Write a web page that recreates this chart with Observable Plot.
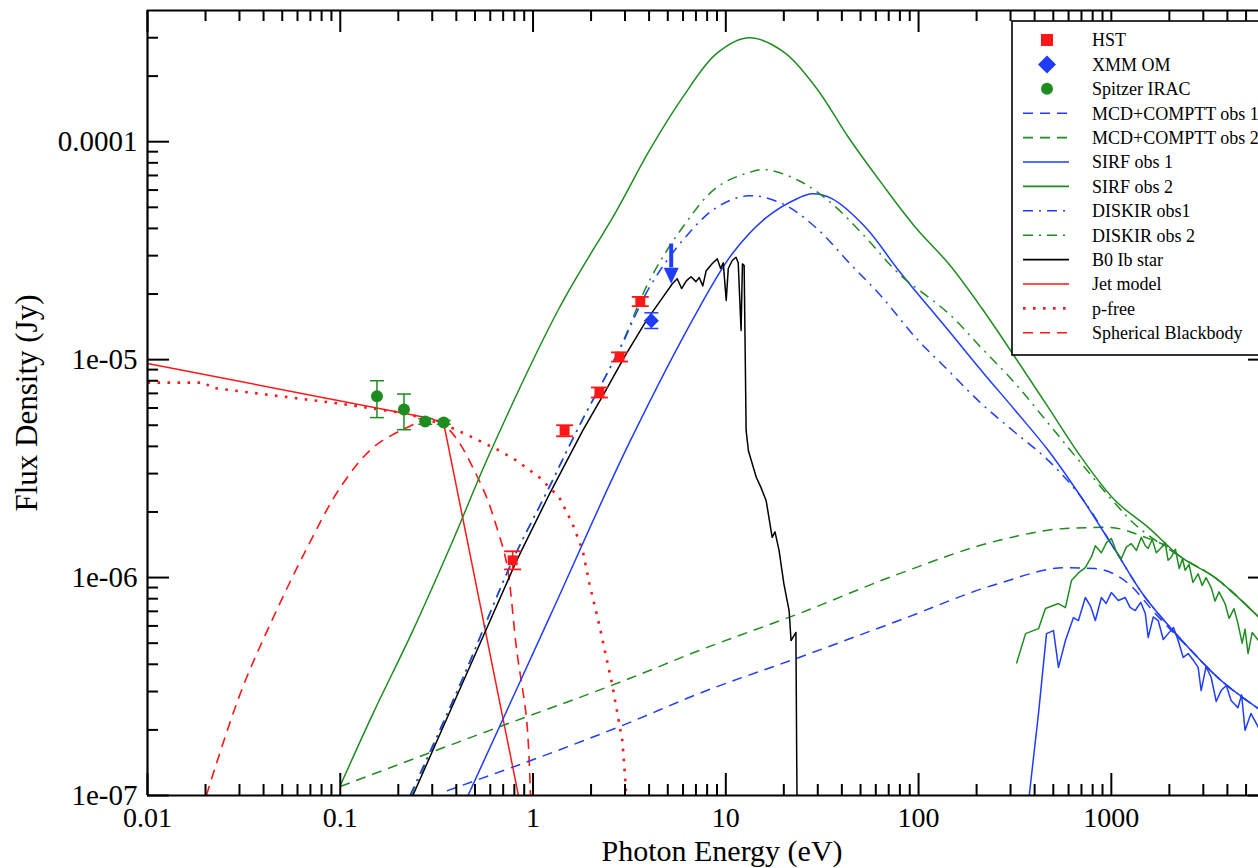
<!DOCTYPE html>
<html><head><meta charset="utf-8">
<script src="https://cdn.jsdelivr.net/npm/d3@7"></script>
<script src="https://cdn.jsdelivr.net/npm/@observablehq/plot@0.6"></script>
<style>body{margin:0;background:#fff}</style>
</head><body><div id="chart"></div>
<script>
// ---- data: x = photon energy (eV), y = flux density (Jy) ----
const xTicks = [0.01, 0.1, 1, 10, 100, 1000];
const xTickLabels = ["0.01", "0.1", "1", "10", "100", "1000"];
const yTicks = [1e-7, 1e-6, 1e-5, 1e-4];
const yTickLabels = ["1e-07", "1e-06", "1e-05", "0.0001"];

const hst = [
  {x: 0.784, y: 1.20e-6, lo: 1.09e-6, hi: 1.32e-6},
  {x: 1.458, y: 4.72e-6, lo: 4.45e-6, hi: 5.0e-6},
  {x: 2.21, y: 7.06e-6, lo: 6.7e-6, hi: 7.45e-6},
  {x: 2.81, y: 1.03e-5, lo: 9.8e-6, hi: 1.08e-5},
  {x: 3.60, y: 1.85e-5, lo: 1.76e-5, hi: 1.94e-5}
];
const xmmOM = [{x: 4.11, y: 1.51e-5, lo: 1.39e-5, hi: 1.64e-5}];
const xmmLimit = [{x: 5.21, top: 3.41e-5, tip: 2.23e-5, headTop: 2.65e-5}];
const irac = [
  {x: 0.155, y: 6.8e-6, lo: 5.42e-6, hi: 8.0e-6},
  {x: 0.214, y: 5.9e-6, lo: 4.77e-6, hi: 6.95e-6},
  {x: 0.276, y: 5.2e-6, lo: 5.05e-6, hi: 5.36e-6},
  {x: 0.344, y: 5.15e-6, lo: 5.05e-6, hi: 5.26e-6}
];

const mcd1 = [[0.357,1.05e-7],[3.16,2.16e-7],[7.28,2.94e-7],[24.0,4.30e-7],[79.0,6.35e-7],[260,9.39e-7],[578,1.11e-6],[826,1.10e-6],[1225,9.39e-7],[1690,6.84e-7],[2594,4.63e-7],[3710,3.37e-7],[5800,2.5e-7]];
const mcd2 = [[0.1,1.10e-7],[0.596,1.99e-7],[3.16,3.44e-7],[7.28,4.63e-7],[24.0,6.84e-7],[79.0,1.04e-6],[260,1.48e-6],[578,1.68e-6],[964,1.70e-6],[1500,1.53e-6],[1905,1.40e-6],[2300,1.24e-6],[3450,1.0e-6],[5800,6.6e-7]];
const sirf1 = [[0.46,1e-7],[1.22,6.6e-7],[3.16,4.16e-6],[7.28,1.73e-5],[10.8,3.06e-5],[16.2,4.48e-5],[24.0,5.53e-5],[28.0,5.77e-5],[35.5,5.48e-5],[53.3,4.03e-5],[79.0,2.56e-5],[143,1.36e-5],[212,8.9e-6],[318,5.83e-6],[472,3.82e-6],[700,2.33e-6],[1050,1.33e-6],[1500,8.1e-7],[2594,4.63e-7],[3710,3.37e-7],[5800,2.5e-7]];
const sirf2 = [[0.1,1.11e-7],[0.148,2.38e-7],[0.238,5.71e-7],[0.384,1.48e-6],[0.596,3.71e-6],[1.37,1.73e-5],[2.71,4.82e-5],[4.01,9.1e-5],[5.95,1.59e-4],[8.92,2.53e-4],[13.1,3.0e-4],[19.6,2.61e-4],[29.4,1.77e-4],[43.5,1.04e-4],[64.5,6.42e-5],[96.7,4.03e-5],[143,2.76e-5],[212,1.73e-5],[318,1.02e-5],[472,6.02e-6],[700,3.55e-6],[1050,2.25e-6],[1553,1.70e-6],[2300,1.24e-6],[3450,1e-6],[5800,6.6e-7]];
const diskir1 = [[0.23,1e-7],[0.427,3.37e-7],[0.784,1.20e-6],[1.19,2.51e-6],[1.74,4.98e-6],[2.81,1.11e-5],[4.01,2.14e-5],[5.95,3.51e-5],[8.92,4.98e-5],[13.1,5.65e-5],[19.6,5.2e-5],[29.4,4.03e-5],[43.5,2.79e-5],[64.5,1.94e-5],[96.7,1.26e-5],[143,8.9e-6],[212,6.28e-6],[318,4.62e-6],[472,3.44e-6],[700,2.33e-6],[1050,1.33e-6],[1500,8.1e-7],[2594,4.63e-7],[3710,3.37e-7],[5800,2.5e-7]];
const diskir2 = [[0.233,1e-7],[0.427,3.37e-7],[0.784,1.20e-6],[1.19,2.51e-6],[1.74,4.98e-6],[2.81,1.12e-5],[4.01,2.30e-5],[5.95,4.03e-5],[8.92,6.15e-5],[13.1,7.21e-5],[16.2,7.44e-5],[24.0,6.62e-5],[35.5,5.2e-5],[53.3,3.63e-5],[79.0,2.48e-5],[143,1.63e-5],[212,1.13e-5],[318,7.76e-6],[472,5.09e-6],[700,3.33e-6],[1050,2.18e-6],[1380,1.70e-6],[2300,1.24e-6],[3450,1e-6],[5800,6.6e-7]];
const b0star = [[0.238,1e-7],[0.432,3.30e-7],[0.823,1.20e-6],[1.22,2.43e-6],[1.81,4.72e-6],[2.35,7.06e-6],[2.98,1.03e-5],[3.87,1.51e-5],[4.69,1.92e-5],[5.28,2.23e-5],[5.6,2.35e-5],[5.9,2.12e-5],[6.24,2.30e-5],[6.6,2.40e-5],[7.0,2.28e-5],[7.28,2.38e-5],[7.6,2.18e-5],[7.9,2.55e-5],[8.51,2.76e-5],[9.03,2.90e-5],[9.4,2.62e-5],[9.7,2.78e-5],[10.05,1.87e-5],[10.3,2.62e-5],[10.8,2.85e-5],[11.3,2.95e-5],[11.6,2.78e-5],[12.0,1.36e-5],[12.2,2.75e-5],[12.45,2.70e-5],[12.75,4.72e-6],[13.1,3.82e-6],[14.4,2.88e-6],[15.2,2.6e-6],[16.2,2.25e-6],[17.4,1.53e-6],[18.0,1.62e-6],[18.9,1.33e-6],[20.0,9.39e-7],[21.3,7.06e-7],[21.8,5.14e-7],[23.1,5.6e-7],[23.4,1e-7]];
const jet = [[0.01,9.6e-6],[0.30,5.35e-6],[0.345,5.05e-6],[0.84,1e-7]];
const pfree = [[0.01,7.84e-6],[0.02,7.84e-6],[0.0212,7.44e-6],[0.1,6.28e-6],[0.222,5.65e-6],[0.357,4.98e-6],[0.487,4.39e-6],[0.671,3.82e-6],[0.823,3.44e-6],[1.08,2.88e-6],[1.37,2.33e-6],[1.60,1.77e-6],[1.81,1.33e-6],[1.96,9.39e-7],[2.21,6.02e-7],[2.58,3.2e-7],[2.91,1.77e-7],[3.05,1e-7]];
const sphBB = [[0.0202,1e-7],[0.0303,2.94e-7],[0.0449,6.55e-7],[0.0673,1.37e-6],[0.1,2.59e-6],[0.148,3.95e-6],[0.222,4.88e-6],[0.292,5.36e-6],[0.357,4.88e-6],[0.417,4.12e-6],[0.487,3.20e-6],[0.575,2.33e-6],[0.648,1.70e-6],[0.730,1.16e-6],[0.823,4.63e-7],[0.927,2.21e-7],[0.97,1e-7]];
const obs2Spectrum = [[322,4.03e-7],[359,5.53e-7],[419,5.83e-7],[455,7.21e-7],[532,7.6e-7],[578,7.28e-7],[621,9.69e-7],[675,1.05e-6],[733,1.11e-6],[790,1.25e-6],[826,1.40e-6],[888,1.30e-6],[945,1.45e-6],[1000,1.51e-6],[1060,1.32e-6],[1127,1.22e-6],[1195,1.38e-6],[1270,1.43e-6],[1350,1.33e-6],[1430,1.53e-6],[1500,1.40e-6],[1553,1.36e-6],[1630,1.50e-6],[1710,1.30e-6],[1815,1.37e-6],[1900,1.45e-6],[1970,1.20e-6],[2045,1.24e-6],[2150,1.35e-6],[2250,1.10e-6],[2340,1.22e-6],[2415,1.08e-6],[2530,1.15e-6],[2650,0.95e-6],[2820,1.04e-6],[2960,0.92e-6],[3100,1.0e-6],[3296,9.0e-7],[3450,7.8e-7],[3620,8.6e-7],[3890,7.6e-7],[4080,6.5e-7],[4330,7.2e-7],[4540,6.15e-7],[4770,5.0e-7],[4940,5.8e-7],[5120,4.48e-7],[5380,5.6e-7],[5800,5.14e-7]];
const obs1Spectrum = [[375,1e-7],[419,2.38e-7],[461,5.53e-7],[501,5.71e-7],[532,3.87e-7],[578,5.14e-7],[636,6.55e-7],[675,6.35e-7],[733,8.1e-7],[780,7.4e-7],[826,6.35e-7],[888,8.1e-7],[940,7.6e-7],[1000,8.53e-7],[1087,7.85e-7],[1181,8.1e-7],[1250,7.3e-7],[1330,7.06e-7],[1420,7.7e-7],[1500,6.84e-7],[1553,5.31e-7],[1650,6.6e-7],[1750,6.35e-7],[1860,5.2e-7],[1972,5.53e-7],[2100,5.9e-7],[2222,5.14e-7],[2360,4.3e-7],[2505,4.48e-7],[2650,4.2e-7],[2820,3.87e-7],[2924,3.03e-7],[3100,3.9e-7],[3296,3.48e-7],[3500,2.7e-7],[3710,3.03e-7],[3950,3.2e-7],[4180,2.73e-7],[4540,2.53e-7],[4740,2.9e-7],[4940,1.99e-7],[5300,2.38e-7],[5800,2.05e-7]];

const legendLabels = ["HST","XMM OM","Spitzer IRAC","MCD+COMPTT obs 1","MCD+COMPTT obs 2","SIRF obs 1","SIRF obs 2","DISKIR obs1","DISKIR obs 2","B0 Ib star","Jet model","p-free","Spherical Blackbody"];

// ---- styles ----
const RED = "#ff1616", BLUE = "#1f3cff", GREEN = "#1f8c1f", BLACK = "#000";
const DASH = "10,7", DASHDOT = "10,6,2,6", DOT = "2.6,7.4";
const FONT = "'Liberation Serif', 'Times New Roman', Times, serif";

const xMinor = [], yMinor = [];
for (const d of [0.01,0.1,1,10,100,1000]) for (let k = 2; k <= 9; k++) if (d*k < 5800) xMinor.push(d*k);
for (const d of [1e-7,1e-6,1e-5,1e-4]) for (let k = 2; k <= 9; k++) if (d*k < 3.9e-4) yMinor.push(d*k);

const W = 1258, H = 868, ML = 147, MR = 0, MT = 10, MB = 73;
const PW = W - ML - MR, PH = H - MT - MB;

const line = (data, stroke, dash, extra = {}) => Plot.line(data, {x: d => d[0], y: d => d[1], stroke, strokeWidth: 1.5, strokeDasharray: dash, strokeLinecap: "butt", clip: true, ...extra});
const cap = w => ({draw(ctx) { ctx.moveTo(-w, 0); ctx.lineTo(w, 0); }});
const head = {draw(ctx) { ctx.moveTo(-7.5, -16); ctx.lineTo(7.5, -16); ctx.lineTo(0, 0); ctx.closePath(); }};
const SMOOTH = "catmull-rom";

const chart = Plot.plot({
  width: W, height: H,
  marginLeft: ML, marginRight: MR, marginTop: MT, marginBottom: MB,
  x: {type: "log", domain: [0.01, 5800]},
  y: {type: "log", domain: [1e-7, 4.0e-4]},
  style: {fontFamily: FONT, background: "white", color: "black"},
  marks: [
    // model curves
    line(sphBB, RED, DASH, {strokeWidth: 1.6, curve: SMOOTH}),
    line(pfree, RED, DOT, {strokeWidth: 2.6}),
    line(jet, RED, null),
    line(mcd2, GREEN, DASH, {curve: "monotone-x"}),
    line(mcd1, BLUE, DASH, {curve: "monotone-x"}),
    line(sirf2, GREEN, null, {curve: SMOOTH}),
    line(sirf1, BLUE, null, {curve: SMOOTH}),
    line(diskir2, GREEN, DASHDOT, {curve: SMOOTH}),
    line(diskir1, BLUE, DASHDOT, {curve: SMOOTH}),
    line(obs2Spectrum, GREEN, null),
    line(obs1Spectrum, BLUE, null),
    line(b0star, BLACK, null),
    // data: error bars
    Plot.ruleX(irac, {x: "x", y1: "lo", y2: "hi", stroke: GREEN, strokeWidth: 1.5}),
    Plot.dot(irac, {x: "x", y: "lo", symbol: cap(7), stroke: GREEN, fill: "none", strokeWidth: 1.5}),
    Plot.dot(irac, {x: "x", y: "hi", symbol: cap(7), stroke: GREEN, fill: "none", strokeWidth: 1.5}),
    Plot.dot(irac, {x: "x", y: "y", r: 6, fill: GREEN, stroke: "none"}),
    Plot.ruleX(hst, {x: "x", y1: "lo", y2: "hi", stroke: RED, strokeWidth: 1.5}),
    Plot.dot(hst, {x: "x", y: "lo", symbol: cap(8.5), stroke: RED, fill: "none", strokeWidth: 1.8}),
    Plot.dot(hst, {x: "x", y: "hi", symbol: cap(8.5), stroke: RED, fill: "none", strokeWidth: 1.8}),
    Plot.dot(hst, {x: "x", y: "y", symbol: "square", r: 5.6, fill: RED, stroke: "none"}),
    Plot.ruleX(xmmOM, {x: "x", y1: "lo", y2: "hi", stroke: BLUE, strokeWidth: 1.5}),
    Plot.dot(xmmOM, {x: "x", y: "lo", symbol: cap(7), stroke: BLUE, fill: "none", strokeWidth: 1.5}),
    Plot.dot(xmmOM, {x: "x", y: "hi", symbol: cap(7), stroke: BLUE, fill: "none", strokeWidth: 1.5}),
    Plot.dot(xmmOM, {x: "x", y: "y", symbol: "diamond2", r: 6.8, fill: BLUE, stroke: "none"}),
    Plot.link(xmmLimit, {x1: "x", x2: "x", y1: "top", y2: "headTop", stroke: BLUE, strokeWidth: 4}),
    Plot.dot(xmmLimit, {x: "x", y: "tip", symbol: head, fill: BLUE, stroke: "none"}),
    // ticks (inward)
    Plot.ruleX(xTicks, {insetTop: PH - 22, strokeWidth: 2}),
    Plot.ruleX(xMinor, {insetTop: PH - 11, strokeWidth: 2}),
    Plot.ruleX(xTicks, {insetBottom: PH - 22, strokeWidth: 2}),
    Plot.ruleX(xMinor, {insetBottom: PH - 11, strokeWidth: 2}),
    Plot.ruleY(yTicks, {insetRight: PW - 22, strokeWidth: 2}),
    Plot.ruleY(yMinor, {insetRight: PW - 11, strokeWidth: 2}),
    Plot.ruleY(yTicks, {insetLeft: PW - 10, strokeWidth: 2}),
    // frame (left, bottom, top)
    Plot.ruleX([0.01], {strokeWidth: 2.2}),
    Plot.ruleY([1e-7], {strokeWidth: 2.2}),
    Plot.ruleY([4.0e-4], {strokeWidth: 2.2}),
    // axes
    Plot.axisX(xTicks, {anchor: "bottom", tickSize: 0, tickPadding: 12, fontSize: 28, label: null,
      tickFormat: d => xTickLabels[xTicks.indexOf(d)]}),
    Plot.axisY(yTicks, {anchor: "left", tickSize: 0, tickPadding: 10, fontSize: 29, label: null,
      tickFormat: d => yTickLabels[yTicks.indexOf(d)]}),
    Plot.text(["Photon Energy (eV)"], {frameAnchor: "bottom", text: d => d, dx: 19, dy: 56, fontSize: 30, lineAnchor: "middle", textAnchor: "middle"}),
    Plot.text(["Flux Density (Jy)"], {frameAnchor: "left", text: d => d, dx: -120, rotate: -90, fontSize: 31, lineAnchor: "middle", textAnchor: "middle"})
  ]
});
document.getElementById("chart").append(chart);

// ---- legend (inside the plot frame, top-right) ----
const svg = d3.select(chart);
const lg = svg.append("g").attr("font-family", FONT).attr("font-size", 18).attr("text-anchor", "start");
lg.append("rect").attr("x", 1012).attr("y", 21).attr("width", 270).attr("height", 334)
  .attr("fill", "white").attr("stroke", "black").attr("stroke-width", 1.6);
const legendStyles = [
  {kind: "square", color: RED}, {kind: "diamond", color: BLUE}, {kind: "circle", color: GREEN},
  {kind: "line", color: BLUE, dash: DASH}, {kind: "line", color: GREEN, dash: DASH},
  {kind: "line", color: BLUE}, {kind: "line", color: GREEN},
  {kind: "line", color: BLUE, dash: DASHDOT}, {kind: "line", color: GREEN, dash: DASHDOT},
  {kind: "line", color: BLACK}, {kind: "line", color: RED},
  {kind: "line", color: RED, dash: DOT, width: 2.6}, {kind: "line", color: RED, dash: DASH}
];
legendLabels.forEach((label, i) => {
  const y = 40 + i * 24.4, s = legendStyles[i];
  if (s.kind === "line") {
    lg.append("line").attr("x1", 1023).attr("x2", 1069).attr("y1", y).attr("y2", y)
      .attr("stroke", s.color).attr("stroke-width", s.width || 1.6).attr("stroke-dasharray", s.dash || null);
  } else if (s.kind === "square") {
    lg.append("rect").attr("x", 1041).attr("y", y - 6).attr("width", 12).attr("height", 12).attr("fill", s.color);
  } else if (s.kind === "diamond") {
    lg.append("path").attr("d", `M1047,${y-9}L1056,${y}L1047,${y+9}L1038,${y}Z`).attr("fill", s.color);
  } else {
    lg.append("circle").attr("cx", 1047).attr("cy", y).attr("r", 6).attr("fill", s.color);
  }
  lg.append("text").attr("x", 1092).attr("y", y).attr("dy", "0.35em").attr("text-anchor", "start").attr("fill", "black").text(label);
});
</script>
</body></html>
